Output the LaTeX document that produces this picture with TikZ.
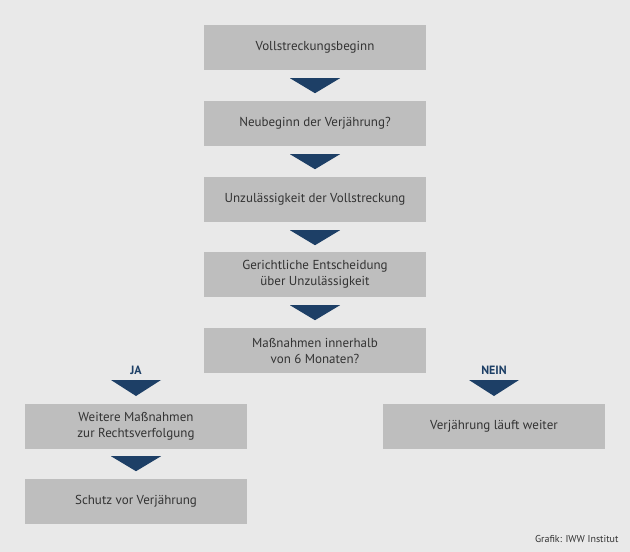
\documentclass[tikz,border=0pt]{standalone}
\usepackage{fontspec}
\setmainfont{PT Sans}
\usetikzlibrary{calc}
\definecolor{bg}{HTML}{E9E9E9}
\definecolor{boxc}{HTML}{BEBEBE}
\definecolor{navy}{HTML}{1D3F66}
\definecolor{txt}{HTML}{333333}
\begin{document}
\begin{tikzpicture}[x=1pt,y=-1pt,
  box/.style={fill=boxc,minimum width=222pt,minimum height=45pt,inner sep=0pt,align=center,font=\fontsize{13}{16}\selectfont,text=txt},
  arr/.style={fill=navy},
  lab/.style={text=navy,font=\fontsize{12}{14}\selectfont\bfseries}]
\fill[bg] (0,0) rectangle (630,552);
\useasboundingbox (0,0) rectangle (630,552);
\node[box] (b1) at (315,47.5) {Vollstreckungsbeginn};
\node[box] (b2) at (315,123.5) {Neubeginn der Verjährung?};
\node[box] (b3) at (315,199.5) {Unzulässigkeit der Vollstreckung};
\node[box] (b4) at (315,274.5) {Gerichtliche Entscheidung\\ über Unzulässigkeit};
\node[box] (b5) at (315,350.5) {Maßnahmen innerhalb\\von 6 Monaten?};
\node[box] (l1) at (136,426.5) {Weitere Maßnahmen\\zur Rechtsverfolgung};
\node[box] (r1) at (494,426.5) {Verjährung läuft weiter};
\node[box] (l2) at (136,501.5) {Schutz vor Verjährung};
\foreach \n in {b1,b2,b3,b4}
  \fill[arr] ($(\n.south)+(-25,8)$) -- ++(50,0) -- ++(-25,15) -- cycle;
\fill[arr] ($(l1.south)+(-25,7)$) -- ++(50,0) -- ++(-25,15) -- cycle;
\coordinate (ja) at (136,380);
\coordinate (nein) at (494,380);
\fill[arr] ($(ja)+(-25,0)$) -- ++(50,0) -- ++(-25,16) -- cycle;
\fill[arr] ($(nein)+(-25,0)$) -- ++(50,0) -- ++(-25,16) -- cycle;
\node[lab,anchor=south] (jal) at ($(ja)+(0,-2)$) {JA};
\node[lab,anchor=south] (neinl) at ($(nein)+(0,-2)$) {NEIN};
\node[anchor=south east,text=txt,font=\fontsize{10}{12}\selectfont] (src) at (622,546) {Grafik: IWW Institut};
\end{tikzpicture}
\end{document}
